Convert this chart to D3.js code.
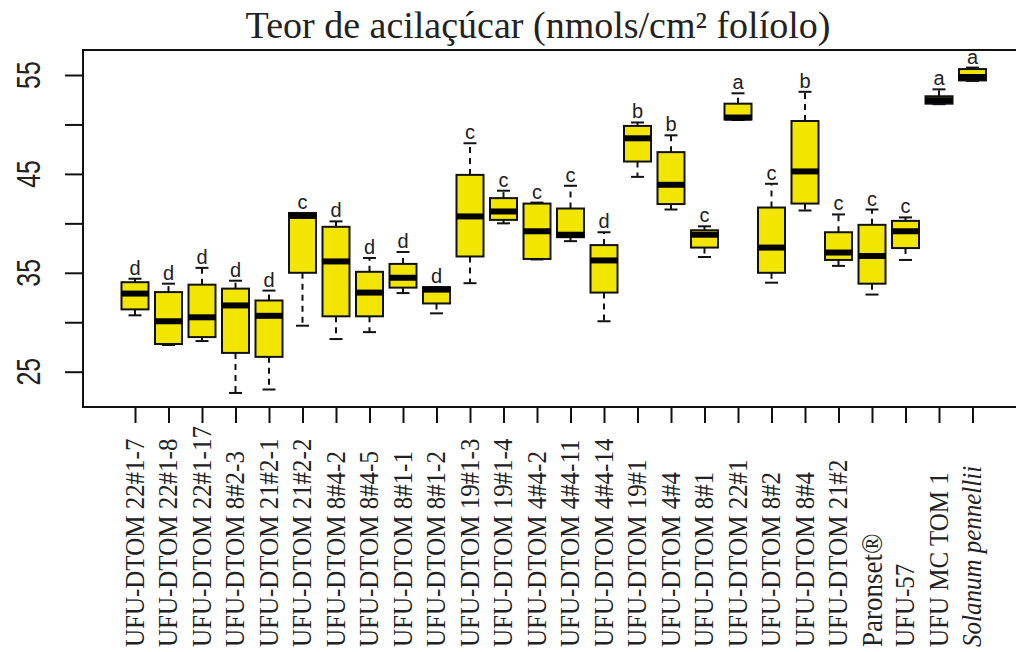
<!DOCTYPE html>
<html>
<head>
<meta charset="utf-8">
<script src="https://cdn.jsdelivr.net/npm/d3@7"></script>
<style>
  html, body { margin: 0; padding: 0; background: #fff; }
  svg { display: block; }
</style>
</head>
<body>
<svg id="chart" width="1016" height="652"></svg>
<script>
const categories = [
  "UFU-DTOM 22#1-7", "UFU-DTOM 22#1-8", "UFU-DTOM 22#1-17", "UFU-DTOM 8#2-3",
  "UFU-DTOM 21#2-1", "UFU-DTOM 21#2-2", "UFU-DTOM 8#4-2", "UFU-DTOM 8#4-5",
  "UFU-DTOM 8#1-1", "UFU-DTOM 8#1-2", "UFU-DTOM 19#1-3", "UFU-DTOM 19#1-4",
  "UFU-DTOM 4#4-2", "UFU-DTOM 4#4-11", "UFU-DTOM 4#4-14", "UFU-DTOM 19#1",
  "UFU-DTOM 4#4", "UFU-DTOM 8#1", "UFU-DTOM 22#1", "UFU-DTOM 8#2",
  "UFU-DTOM 8#4", "UFU-DTOM 21#2", "Paronset®", "UFU-57",
  "UFU MC TOM 1", "Solanum pennellii"
];
const lowerWhisker = [30.7, 27.7, 28.1, 22.85, 23.2, 29.65, 28.3, 29.0, 32.95, 30.9, 33.95, 40.0, 36.35, 38.2, 30.1, 44.7, 41.4, 36.6, 50.45, 34.0, 41.3, 35.7, 32.8, 36.3, 52.05, 54.4];
const q1 =           [31.3, 27.8, 28.5, 26.9, 26.5, 35.0, 30.6, 30.6, 33.5, 31.9, 36.65, 40.35, 36.4, 38.6, 33.0, 46.25, 41.95, 37.55, 50.5, 35.0, 42.0, 36.3, 33.9, 37.5, 52.1, 54.45];
const medians =      [32.9, 30.1, 30.5, 31.7, 30.65, 40.75, 36.15, 33.0, 34.5, 33.3, 40.7, 41.2, 39.2, 38.85, 36.25, 48.6, 43.9, 38.85, 50.7, 37.55, 45.25, 37.05, 36.7, 39.2, 52.45, 54.8];
const q3 =           [34.05, 33.05, 33.8, 33.4, 32.2, 41.05, 39.65, 35.1, 35.9, 33.55, 44.9, 42.55, 42.0, 41.5, 37.8, 49.85, 47.2, 39.3, 52.1, 41.6, 50.35, 39.1, 39.85, 40.25, 52.85, 55.6];
const upperWhisker = [34.4, 33.9, 35.5, 34.2, 33.2, 41.05, 40.2, 36.5, 37.1, 33.55, 48.1, 43.3, 42.1, 43.8, 39.1, 50.2, 48.9, 39.7, 53.15, 44.0, 53.3, 40.9, 41.4, 40.6, 53.55, 55.75];
const groupLetters = ["d","d","d","d","d","c","d","d","d","d","c","c","c","c","d","b","b","c","a","c","b","c","c","c","a","a"];
const yTicks = [25, 30, 35, 40, 45, 50, 55];
const yTickLabels = ["25", "", "35", "", "45", "", "55"];
const titleText = "Teor de acilaçúcar (nmols/cm² folíolo)";

const svg = d3.select("#chart");
const plot = { left: 83, top: 50, bottom: 407, right: 1030 };

const x = d3.scalePoint().domain(categories).range([135, 972.5]);
const y = d3.scaleLinear().domain([25, 55]).range([371.7, 75]);

const fill = "#f2e600";
const boxW = 27, capW = 13;

// Title
svg.append("text")
  .attr("x", 538).attr("y", 38)
  .attr("text-anchor", "middle")
  .attr("font-family", "'Liberation Serif', 'Times New Roman', serif")
  .attr("font-size", 38)
  .attr("fill", "#222")
  .text(titleText);

// Plot frame
svg.append("rect")
  .attr("x", plot.left).attr("y", plot.top)
  .attr("width", plot.right - plot.left).attr("height", plot.bottom - plot.top)
  .attr("fill", "none").attr("stroke", "#111").attr("stroke-width", 2);

// Y axis
const yAxis = d3.axisLeft(y).tickValues(yTicks).tickSize(18).tickSizeOuter(0).tickFormat("");
const gy = svg.append("g").attr("transform", `translate(${plot.left},0)`).call(yAxis);
gy.select(".domain").remove();
gy.selectAll(".tick line").attr("stroke", "#111").attr("stroke-width", 2);
svg.append("g").selectAll("text").data(yTicks).join("text")
  .attr("transform", (d) => `translate(40,${y(d)}) rotate(-90) scale(1,1.3)`)
  .attr("text-anchor", "middle")
  .attr("font-family", "'Liberation Sans', Arial, sans-serif")
  .attr("font-size", 25)
  .attr("fill", "#222")
  .text((d, i) => yTickLabels[i]);

// X axis
const xAxis = d3.axisBottom(x).tickSize(16).tickSizeOuter(0).tickFormat("");
const gx = svg.append("g").attr("transform", `translate(0,${plot.bottom})`).call(xAxis);
gx.select(".domain").remove();
gx.selectAll(".tick line").attr("stroke", "#111").attr("stroke-width", 2);

svg.append("g").selectAll("text").data(categories).join("text")
  .attr("transform", (d) => `translate(${x(d)},647) rotate(-90) scale(1,1.08)`)
  .attr("dy", "0.33em")
  .attr("text-anchor", "start")
  .attr("font-family", "'Liberation Serif', 'Times New Roman', serif")
  .attr("font-size", (d) => d === "Paronset®" ? 27 : 25)
  .attr("font-style", (d) => d === "Solanum pennellii" ? "italic" : "normal")
  .attr("fill", "#222")
  .text((d) => d);

// Boxes
const rows = categories.map((c, i) => ({
  c, lw: lowerWhisker[i], q1: q1[i], med: medians[i], q3: q3[i], uw: upperWhisker[i], letter: groupLetters[i]
}));

const g = svg.append("g");
const bx = g.selectAll("g.box").data(rows).join("g").attr("class", "box");

// whiskers (dashed)
bx.append("line")
  .attr("x1", (d) => x(d.c)).attr("x2", (d) => x(d.c))
  .attr("y1", (d) => y(d.q3)).attr("y2", (d) => y(d.uw))
  .attr("stroke", "#111").attr("stroke-width", 2).attr("stroke-dasharray", "6,5");
bx.append("line")
  .attr("x1", (d) => x(d.c)).attr("x2", (d) => x(d.c))
  .attr("y1", (d) => y(d.q1)).attr("y2", (d) => y(d.lw))
  .attr("stroke", "#111").attr("stroke-width", 2).attr("stroke-dasharray", "6,5");
// caps
bx.append("line")
  .attr("x1", (d) => x(d.c) - capW / 2).attr("x2", (d) => x(d.c) + capW / 2)
  .attr("y1", (d) => y(d.uw)).attr("y2", (d) => y(d.uw))
  .attr("stroke", "#111").attr("stroke-width", 2);
bx.append("line")
  .attr("x1", (d) => x(d.c) - capW / 2).attr("x2", (d) => x(d.c) + capW / 2)
  .attr("y1", (d) => y(d.lw)).attr("y2", (d) => y(d.lw))
  .attr("stroke", "#111").attr("stroke-width", 2);
// box
bx.append("rect")
  .attr("x", (d) => x(d.c) - boxW / 2).attr("width", boxW)
  .attr("y", (d) => y(d.q3)).attr("height", (d) => y(d.q1) - y(d.q3))
  .attr("fill", fill).attr("stroke", "#111").attr("stroke-width", 2);
// median
bx.append("line")
  .attr("x1", (d) => x(d.c) - boxW / 2).attr("x2", (d) => x(d.c) + boxW / 2)
  .attr("y1", (d) => y(d.med)).attr("y2", (d) => y(d.med))
  .attr("stroke", "#000").attr("stroke-width", 6);
// letters
bx.append("text")
  .attr("x", (d) => x(d.c)).attr("y", (d) => y(d.uw) - 4)
  .attr("text-anchor", "middle")
  .attr("font-family", "'Liberation Sans', Arial, sans-serif")
  .attr("font-size", 20)
  .attr("fill", "#222")
  .text((d) => d.letter);
</script>
</body>
</html>
